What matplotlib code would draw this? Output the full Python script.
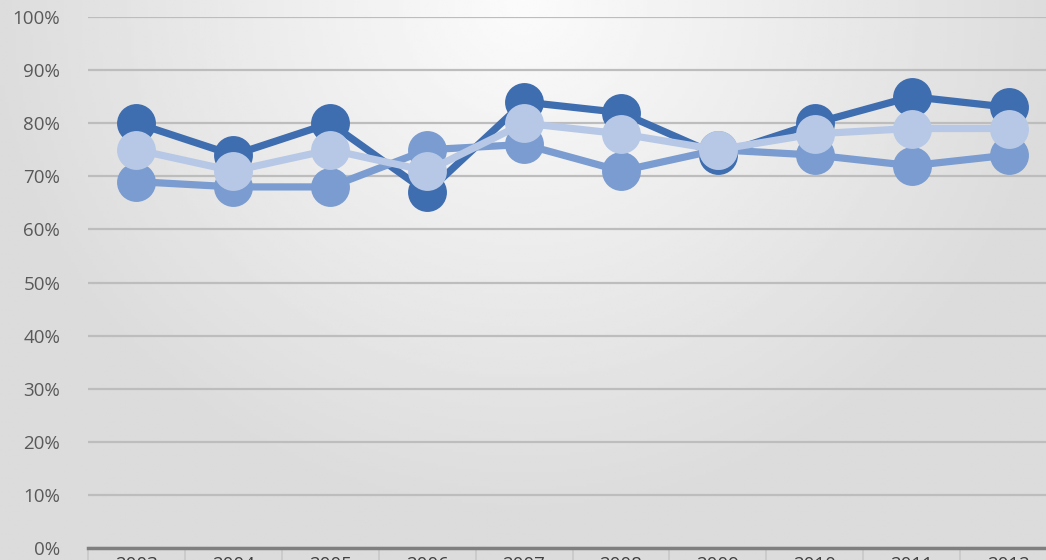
import numpy as np
import matplotlib.pyplot as plt
import matplotlib
from matplotlib.ticker import FuncFormatter

matplotlib.rcParams['font.family'] = ['Open Sans', 'DejaVu Sans']

#%% data
years = ['2003', '2004', '2005', '2006', '2007', '2008', '2009', '2010', '2011', '2012']
series_a = [80, 74, 80, 67, 84, 82, 74, 80, 85, 83]
series_b = [69, 68, 68, 75, 76, 71, 75, 74, 72, 74]
series_c = [75, 71, 75, 71, 80, 78, 75, 78, 79, 79]
yticks = [0, 10, 20, 30, 40, 50, 60, 70, 80, 90, 100]

colors = ['#3E6DB0', '#7A9CD0', '#B6C8E6']

#%% figure with radial grey background
W, H = 1046, 560
fig = plt.figure(figsize=(W/100, H/100), dpi=100)
bg = fig.add_axes([0, 0, 1, 1], zorder=-10)
gx, gy = np.meshgrid(np.linspace(0, 1, 300), np.linspace(0, 1, 200))
d = np.sqrt(((gx - 0.5)*1.0)**2 + (gy*0.56)**2)
shade = np.clip(0.985 - 0.24*d, 0.86, 1.0)
bg.imshow(shade, cmap='gray', vmin=0, vmax=1, extent=[0, 1, 0, 1],
          aspect='auto', origin='upper')
bg.axis('off')

#%% line chart
ax = fig.add_axes([88/W, 12/H, 969/W, 531/H])
ax.patch.set_alpha(0)
x = np.arange(len(years))
for vals, c in zip([series_a, series_b, series_c], colors):
    ax.plot(x, vals, color=c, linewidth=5.2, marker='o', markersize=28,
            markeredgewidth=0, solid_capstyle='round', zorder=3)

ax.set_xlim(-0.5, len(years) - 0.5)
ax.set_ylim(0, 100)
ax.set_yticks(yticks)
ax.yaxis.set_major_formatter(FuncFormatter(lambda v, p: '%d%%' % v))
ax.grid(axis='y', color='#BDBDBD', linewidth=1.6, zorder=0)
ax.set_axisbelow(True)

for s in ['top', 'right', 'left']:
    ax.spines[s].set_visible(False)
ax.spines['bottom'].set_color('#7F7F7F')
ax.spines['bottom'].set_linewidth(2.5)
ax.spines['bottom'].set_zorder(4)

ax.tick_params(axis='y', length=0, pad=20, labelsize=13.5, labelcolor='#595959')
# category separators below the axis
ax.set_xticks(np.arange(len(years) + 1) - 0.5)
ax.set_xticklabels([])
ax.set_xticks(x, minor=True)
ax.set_xticklabels(years, minor=True)
ax.tick_params(axis='x', which='major', length=14, width=1.2, color='#C8C8C8',
               direction='out')
ax.tick_params(axis='x', which='minor', length=0, pad=6, labelsize=13.5,
               labelcolor='#404040')

plt.savefig('out.png', dpi=100)
